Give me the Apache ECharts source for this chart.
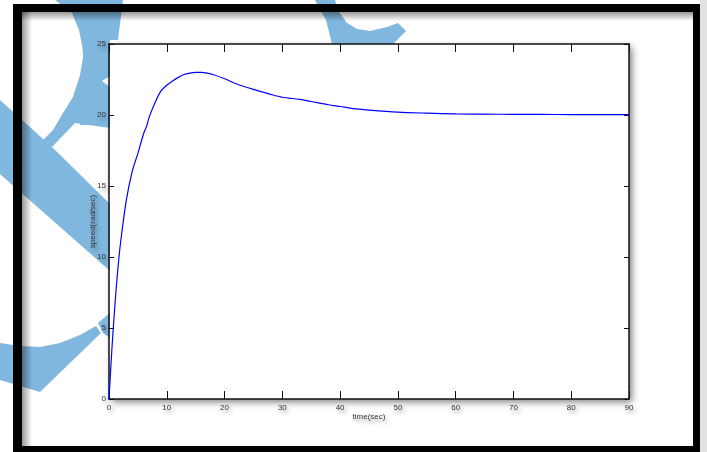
<!DOCTYPE html>
<html>
<head>
<meta charset="utf-8">
<title>speed response</title>
<script src="https://cdn.jsdelivr.net/npm/echarts@6/dist/echarts.min.js"></script>
<style>
	html, body { margin: 0; padding: 0; background: #fff; }
	#main { width: 707px; height: 452px; }
</style>
</head>
<body>
<div id="main"></div>
<script>
// 数据: 时间(sec) 和 速度(rad/sec)
var timeSec = [0, 0.5, 1, 1.5, 2, 3, 4, 5, 6, 6.5, 7, 8, 9, 10, 11, 12, 13, 14, 15, 16, 17, 18, 20, 22, 25, 28, 30, 33, 35, 38, 40, 42, 45, 50, 55, 60, 65, 70, 75, 80, 85, 90];
var speedVals = [0, 3.5, 6.5, 9, 11, 14, 16, 17.3, 18.7, 19.2, 19.9, 20.9, 21.7, 22.1, 22.4, 22.65, 22.85, 22.95, 23.0, 23.0, 22.95, 22.85, 22.55, 22.2, 21.8, 21.45, 21.25, 21.1, 20.95, 20.72, 20.6, 20.47, 20.35, 20.2, 20.13, 20.08, 20.06, 20.05, 20.04, 20.03, 20.02, 20.02];
var xTicks = [0, 10, 20, 30, 40, 50, 60, 70, 80, 90];
var yTicks = [0, 5, 10, 15, 20, 25];

var seriesData = timeSec.map(function (t, i) { return [t, speedVals[i]]; });

var myChart = echarts.init(document.getElementById('main'));

var fontFam = '"Liberation Sans Narrow", "Liberation Sans", Arial, sans-serif';
var blue = '#80b7de';
var labelShadow = {
	color: '#333',
	fontSize: 8,
	fontFamily: fontFam,
	textShadowColor: 'rgba(0,0,0,0.45)',
	textShadowBlur: 4,
	textShadowOffsetX: 2,
	textShadowOffsetY: 3
};

// 背景水印 (只画在图框外)
var watermark = [
	[[55,0],[123,0],[118,40],[84,40],[83,53],[82,45],[79,30],[72,13]],
	[[84,40],[110,40],[110,76],[102,81],[110,87],[110,128],[75,123],[52,147],[42,141],[53,130],[63,113],[73,97],[80,75],[83,58],[83,45]],
	[[0,100],[52,147],[110,204],[110,271],[0,174]],
	[[0,343],[20,346],[40,347],[60,343],[80,335],[96,326],[101,333],[40,392],[20,386],[0,380]],
	[[98,323],[110,313],[110,338],[103,333]],
	[[315,0],[335,0],[339,12],[347,23],[357,29],[370,31],[387,27],[398,23],[406,31],[393,44],[332,44],[326,20]]
];

var graphics = watermark.map(function (pts) {
	return { type: 'polygon', zlevel: 1, silent: true, shape: { points: pts }, style: { fill: blue } };
});
// 补充方块
graphics.push({ type: 'rect', zlevel: 1, silent: true, shape: { x: 84, y: 40, width: 26, height: 36 }, style: { fill: blue } });
graphics.push({ type: 'rect', zlevel: 1, silent: true, shape: { x: 80, y: 87, width: 30, height: 38 }, style: { fill: blue } });
// 外框
var fz = { zlevel: 3, silent: true };
graphics.push(
	Object.assign({ type: 'rect', shape: { x: 700, y: 0, width: 7, height: 452 }, style: { fill: '#e2e2e2' } }, fz),
	Object.assign({ type: 'rect', shape: { x: 22, y: 12, width: 10, height: 434 }, style: { fill: new echarts.graphic.LinearGradient(0, 0, 1, 0, [{ offset: 0, color: 'rgba(0,0,0,0.4)' }, { offset: 1, color: 'rgba(0,0,0,0)' }]) } }, fz),
	Object.assign({ type: 'rect', shape: { x: 22, y: 12, width: 671, height: 9 }, style: { fill: new echarts.graphic.LinearGradient(0, 0, 0, 1, [{ offset: 0, color: 'rgba(0,0,0,0.4)' }, { offset: 1, color: 'rgba(0,0,0,0)' }]) } }, fz),
	Object.assign({ type: 'rect', shape: { x: 13, y: 4, width: 687, height: 8 }, style: { fill: '#000' } }, fz),
	Object.assign({ type: 'rect', shape: { x: 13, y: 4, width: 9, height: 448 }, style: { fill: '#000' } }, fz),
	Object.assign({ type: 'rect', shape: { x: 693, y: 4, width: 7, height: 448 }, style: { fill: '#000' } }, fz),
	Object.assign({ type: 'rect', shape: { x: 13, y: 446, width: 687, height: 6 }, style: { fill: '#000' } }, fz)
);

var axisLineStyle = { color: '#111', width: 1.5 };
var tickStyle = { color: '#111', width: 1 };

var option = {
	backgroundColor: '#fff',
	animation: false,
	graphic: { elements: graphics },
	grid: {
		left: 109,
		right: 78,
		top: 44,
		bottom: 53,
		show: true,
		backgroundColor: '#fff',
		borderWidth: 0,
		shadowColor: 'rgba(0,0,0,0.5)',
		shadowBlur: 7,
		shadowOffsetX: 3,
		shadowOffsetY: 3
	},
	xAxis: [
		{
			type: 'value',
			zlevel: 2,
			min: 0,
			max: 90,
			interval: 10,
			position: 'bottom',
			name: 'time(sec)',
			nameLocation: 'middle',
			nameGap: 14,
			nameMoveOverlap: false,
			nameTextStyle: labelShadow,
			axisLine: { show: true, onZero: false, lineStyle: axisLineStyle },
			axisTick: { show: true, inside: true, length: 8, lineStyle: tickStyle },
			axisLabel: Object.assign({ margin: 5, formatter: function (v) { return xTicks.indexOf(v) >= 0 ? String(v) : ''; } }, labelShadow),
			splitLine: { show: false }
		},
		{
			type: 'value',
			zlevel: 2,
			min: 0,
			max: 90,
			interval: 10,
			position: 'top',
			axisLine: { show: true, onZero: false, lineStyle: axisLineStyle },
			axisTick: { show: true, inside: true, length: 8, lineStyle: tickStyle },
			axisLabel: { show: false },
			splitLine: { show: false }
		}
	],
	yAxis: [
		{
			type: 'value',
			zlevel: 2,
			min: 0,
			max: 25,
			interval: 5,
			position: 'left',
			name: 'speed(rad/sec)',
			nameLocation: 'middle',
			nameGap: 12,
			nameMoveOverlap: false,
			nameTextStyle: labelShadow,
			axisLine: { show: true, onZero: false, lineStyle: axisLineStyle },
			axisTick: { show: true, inside: true, length: 5, lineStyle: tickStyle },
			axisLabel: Object.assign({ margin: 3, formatter: function (v) { return yTicks.indexOf(v) >= 0 ? String(v) : ''; } }, labelShadow),
			splitLine: { show: false }
		},
		{
			type: 'value',
			zlevel: 2,
			min: 0,
			max: 25,
			interval: 5,
			position: 'right',
			axisLine: { show: true, onZero: false, lineStyle: axisLineStyle },
			axisTick: { show: true, inside: true, length: 5, lineStyle: tickStyle },
			axisLabel: { show: false },
			splitLine: { show: false }
		}
	],
	series: [
		{
			name: 'speed',
			type: 'line',
			zlevel: 2,
			xAxisIndex: 0,
			yAxisIndex: 0,
			data: seriesData,
			smooth: 0.3,
			showSymbol: false,
			lineStyle: { color: '#0000ff', width: 1.2 }
		}
	]
};
// 显示图表
myChart.setOption(option);
</script>
</body>
</html>
